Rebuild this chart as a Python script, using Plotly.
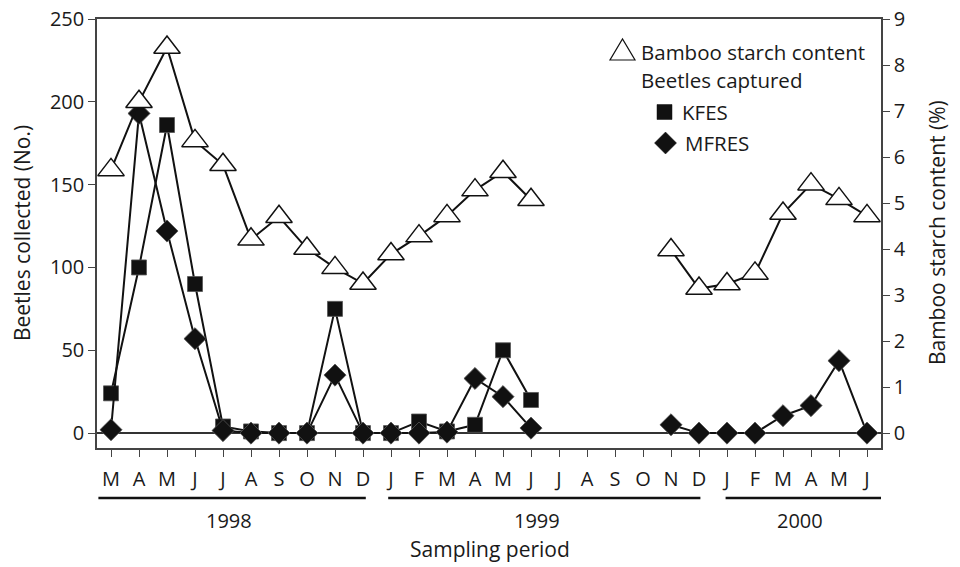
import plotly.graph_objects as go

months = ["M", "A", "M", "J", "J", "A", "S", "O", "N", "D",
          "J", "F", "M", "A", "M", "J", "J", "A", "S", "O", "N", "D",
          "J", "F", "M", "A", "M", "J"]
years = ["1998", "1999", "2000"]

starch = [5.72, 7.20, 8.38, 6.35, 5.83, 4.21, 4.70, 4.01, 3.59, 3.25,
          3.89, 4.28, 4.72, 5.28, 5.68, 5.07, None, None, None, None, 3.98, 3.14,
          3.24, 3.47, 4.77, 5.41, 5.09, 4.72]
kfes = [24, 100, 186, 90, 4, 1, 0, 0, 75, 0,
        0, 7, 1, 5, 50, 20, None, None, None, None, None, None,
        None, None, None, None, None, None]
mfres = [2, 193, 122, 57, 1.5, 0, 0, 0, 35, 0,
         0, 0, 0.6, 33, 22, 3, None, None, None, None, 5, 0,
         0, 0, 10.5, 16.6, 43.7, 0]

idx = list(range(len(months)))
FONT = "Open Sans"
INK = "#111111"
AX = "#444444"

fig = go.Figure()
fig.add_trace(go.Scatter(x=idx, y=kfes, mode="lines+markers", name="KFES",
                         line=dict(color=INK, width=2),
                         marker=dict(symbol="square", size=15, color=INK,
                                     line=dict(color="#555", width=0.8)),
                         connectgaps=False, showlegend=False))
fig.add_trace(go.Scatter(x=idx, y=mfres, mode="lines+markers", name="MFRES",
                         line=dict(color=INK, width=2),
                         marker=dict(symbol="diamond", size=17, color=INK,
                                     line=dict(color="#555", width=0.8)),
                         connectgaps=False, showlegend=False))
fig.add_trace(go.Scatter(x=idx, y=starch, mode="lines+markers", name="Bamboo starch content",
                         yaxis="y2",
                         line=dict(color=INK, width=2),
                         marker=dict(symbol="triangle-up", size=23, color="white",
                                     line=dict(color=INK, width=1.5)),
                         connectgaps=False, showlegend=False))

tickfont = dict(family=FONT, size=20, color="#1a1a1a")
fig.update_layout(
    width=960, height=567,
    margin=dict(l=97, r=79, t=19, b=119, pad=0),
    paper_bgcolor="white", plot_bgcolor="white",
    showlegend=False,
    xaxis=dict(range=[-0.5, 27.5], tickvals=idx, ticktext=months, automargin=False,
               ticks="outside", ticklen=7, tickwidth=1.2, tickcolor=AX,
               ticklabelstandoff=5,
               showline=True, linecolor=AX, linewidth=1.5, mirror=True,
               showgrid=False, zeroline=False, tickfont=tickfont),
    yaxis=dict(range=[-9, 250], tickvals=[0, 50, 100, 150, 200, 250], automargin=False,
               ticks="outside", ticklen=7, tickwidth=1.2, tickcolor=AX,
               showline=True, linecolor=AX, linewidth=1.5,
               showgrid=False, zeroline=True, zerolinecolor="#333", zerolinewidth=1.5,
               tickfont=tickfont),
    yaxis2=dict(range=[-0.326, 9], tickvals=list(range(10)), overlaying="y", side="right",
                automargin=False,
                ticks="outside", ticklen=7, tickwidth=1.2, tickcolor=AX,
                showline=True, linecolor=AX, linewidth=1.5,
                showgrid=False, zeroline=False, tickfont=tickfont),
)

# year underlines and labels
year_spans = [(-0.45, 9.1), (9.9, 21.05), (21.95, 27.5)]
year_centers = [4.2, 15.2, 24.6]
for (a, b), c, yr in zip(year_spans, year_centers, years):
    fig.add_shape(type="line", xref="x", yref="paper", x0=a, x1=b, y0=-0.1166, y1=-0.1166,
                  line=dict(color=INK, width=2.5))
    fig.add_annotation(x=c, y=-0.168, xref="x", yref="paper", text=yr, showarrow=False,
                       xanchor="center", yanchor="middle",
                       font=dict(family=FONT, size=20, color="#1a1a1a"))

fig.add_annotation(x=(490 - 97) / 784, y=(448 - 549) / 429, xref="paper", yref="paper",
                   text="Sampling period", showarrow=False, xanchor="center", yanchor="middle",
                   font=dict(family=FONT, size=21, color="#1a1a1a"))
fig.add_annotation(x=(22 - 97) / 784, y=0.501, xref="paper", yref="paper",
                   text="Beetles collected (No.)", showarrow=False, textangle=-90,
                   xanchor="center", yanchor="middle",
                   font=dict(family=FONT, size=21, color="#1a1a1a"))
fig.add_annotation(x=(937 - 97) / 784, y=0.501, xref="paper", yref="paper",
                   text="Bamboo starch content (%)", showarrow=False, textangle=-90,
                   xanchor="center", yanchor="middle",
                   font=dict(family=FONT, size=21, color="#1a1a1a"))

# custom legend
def px(xp):
    return (xp - 97) / 784

def py(yp):
    return (448 - yp) / 429

legend_font = dict(family=FONT, size=20.5, color="#1a1a1a")
for text, xp, yp in [("Bamboo starch content", 639, 51.5), ("Beetles captured", 639, 80),
                     ("KFES", 680, 112), ("MFRES", 683, 143)]:
    fig.add_annotation(x=px(xp), y=py(yp), xref="paper", yref="paper", text=text,
                       showarrow=False, xanchor="left", yanchor="middle", font=legend_font)

fig.add_shape(type="path", xref="paper", yref="paper", xsizemode="pixel", ysizemode="pixel",
              xanchor=px(622.5), yanchor=py(50), path="M-12.5,-10 L12.5,-10 L0,11 Z",
              fillcolor="white", line=dict(color=INK, width=1.2))
fig.add_shape(type="path", xref="paper", yref="paper", xsizemode="pixel", ysizemode="pixel",
              xanchor=px(664.5), yanchor=py(112), path="M-7.5,-7.5 L7.5,-7.5 L7.5,7.5 L-7.5,7.5 Z",
              fillcolor=INK, line=dict(color=INK, width=0.5))
fig.add_shape(type="path", xref="paper", yref="paper", xsizemode="pixel", ysizemode="pixel",
              xanchor=px(665.5), yanchor=py(143), path="M0,-11 L11,0 L0,11 L-11,0 Z",
              fillcolor=INK, line=dict(color=INK, width=0.5))

fig.write_html("out.html", config={"displayModeBar": False},
               post_script="document.body.style.margin='0';document.body.style.overflow='hidden';")
